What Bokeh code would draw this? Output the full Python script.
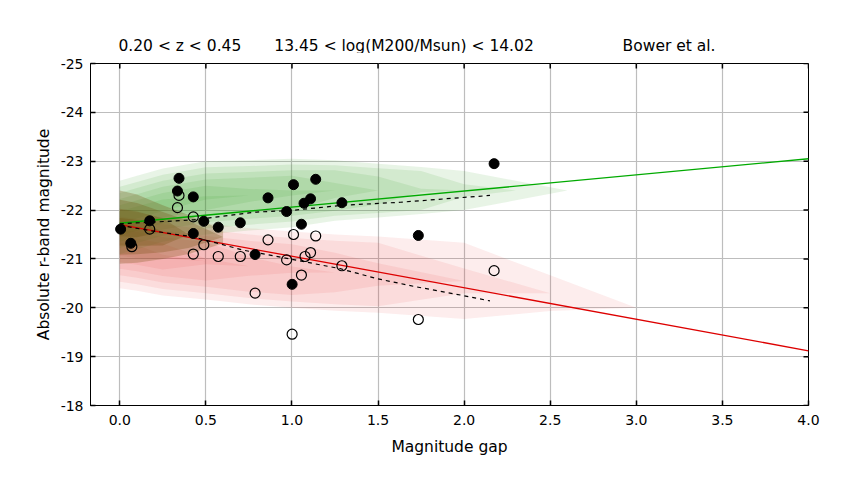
import math
from bokeh.plotting import figure
from bokeh.models import Range1d, FixedTicker
from bokeh.layouts import column
from bokeh.core.properties import value
from bokeh.embed import file_html
from bokeh.resources import INLINE

# ---------------- data ----------------
x_ticks = [0.0, 0.5, 1.0, 1.5, 2.0, 2.5, 3.0, 3.5, 4.0]
x_tick_labels = ["0.0", "0.5", "1.0", "1.5", "2.0", "2.5", "3.0", "3.5", "4.0"]
y_ticks = [-25, -24, -23, -22, -21, -20, -19, -18]
y_tick_labels = ["-25", "-24", "-23", "-22", "-21", "-20", "-19", "-18"]

# brightest galaxy (filled) and second brightest (open) per group
bcg_gap = [0.005, 0.064, 0.174, 0.335, 0.344, 0.427, 0.427, 0.488, 0.572, 0.70, 0.786,
           0.861, 0.969, 1.001, 1.009, 1.055, 1.07, 1.108, 1.138, 1.29, 1.734, 2.174]
bcg_mag = [-21.61, -21.32, -21.78, -22.39, -22.65, -22.27, -21.52, -21.77, -21.65, -21.74, -21.09,
           -22.25, -21.97, -20.48, -22.52, -21.71, -22.14, -22.23, -22.63, -22.15, -21.48, -22.95]
sec_gap = [0.07, 0.174, 0.335, 0.344, 0.427, 0.427, 0.488, 0.572, 0.70, 0.786,
           0.861, 0.969, 1.001, 1.009, 1.055, 1.076, 1.108, 1.138, 1.29, 1.734, 2.174]
sec_mag = [-21.25, -21.61, -22.05, -22.30, -21.86, -21.10, -21.29, -21.05, -21.05, -20.30,
           -21.39, -20.98, -19.46, -21.50, -20.67, -21.05, -21.13, -21.47, -20.86, -19.76, -20.76]

# model fits (Bower et al.)
fit_x = [0.0, 4.0]
fit_bcg = [-21.73, -23.05]
fit_sec = [-21.70, -19.12]

# running medians of the observed groups (dashed)
med_bcg_x = [0.0, 0.174, 0.43, 0.795, 0.988, 1.30, 1.63, 2.15]
med_bcg_y = [-21.72, -21.75, -21.80, -21.96, -21.99, -22.10, -22.16, -22.30]
med_sec_x = [0.0, 0.174, 0.43, 0.717, 0.988, 1.28, 1.49, 1.705, 1.98, 2.15]
med_sec_y = [-21.69, -21.58, -21.45, -21.18, -21.0, -20.80, -20.60, -20.44, -20.26, -20.14]

# simulated galaxy clouds: centre, half-spread and visible density along the gap axis
green_x = [0.0, 0.1, 0.25, 0.5, 0.75, 1.0, 1.25, 1.5, 1.75, 2.0, 2.3, 2.6]
green_c = [-21.85, -21.95, -22.1, -22.25, -22.3, -22.35, -22.4, -22.4, -22.4, -22.4, -22.4, -22.4]
green_s = [0.75, 0.75, 0.75, 0.75, 0.72, 0.7, 0.62, 0.55, 0.48, 0.4, 0.3, 0.2]
green_d = [1.0, 0.95, 0.85, 0.75, 0.65, 0.6, 0.5, 0.4, 0.3, 0.2, 0.1, 0.0]

red_x = [0.0, 0.1, 0.25, 0.5, 0.75, 1.0, 1.25, 1.5, 2.0, 2.5, 3.0]
red_c = [-21.2, -21.15, -21.05, -20.95, -20.85, -20.78, -20.72, -20.68, -20.55, -20.3, -20.0]
red_s = [0.8, 0.8, 0.8, 0.78, 0.78, 0.78, 0.78, 0.78, 0.78, 0.78, 0.78]
red_d = [1.0, 0.9, 0.75, 0.6, 0.5, 0.45, 0.4, 0.35, 0.2, 0.07, 0.0]

mix_x = [0.0, 0.1, 0.25, 0.4, 0.6]
mix_c = [-21.65, -21.62, -21.55, -21.5, -21.45]
mix_s = [0.75, 0.7, 0.55, 0.4, 0.2]
mix_d = [1.0, 0.9, 0.6, 0.35, 0.1]

titles = ["0.20 < z < 0.45", "13.45 < log(M200/Msun) < 14.02", "Bower et al."]
title_x = [0.349, 1.651, 3.19]

# ---------------- figure ----------------
FONT = "DejaVu Sans"
W = 845
HEAD_H = 53
x_range = Range1d(-0.17, 4.0)

head = figure(width=W, height=HEAD_H, output_backend="svg", toolbar_location=None,
              x_range=x_range, y_range=Range1d(0, HEAD_H),
              x_axis_location=None, y_axis_location=None,
              min_border_left=90, min_border_right=37, min_border_top=0, min_border_bottom=0)
head.grid.visible = False
head.outline_line_color = None
head.text(x=title_x, y=[HEAD_H - 45] * len(titles), text=titles, text_align="center",
          text_baseline="middle", text_font=value(FONT), text_font_size=value("15.5px"),
          text_color="black")

p = figure(width=W, height=435, output_backend="svg", toolbar_location=None,
           x_range=x_range, y_range=Range1d(-18, -25),
           min_border_left=90, min_border_right=37, min_border_top=10, min_border_bottom=83,
           x_axis_label="Magnitude gap", y_axis_label="Absolute r-band magnitude")
p.background_fill_color = "white"
p.border_fill_color = "white"
p.outline_line_color = "black"
p.outline_line_width = 1
p.outline_line_alpha = 1

for g in (p.xgrid, p.ygrid):
    g.grid_line_color = "#bdbdbd"
    g.grid_line_width = 1.2
p.xgrid.ticker = FixedTicker(ticks=x_ticks)
p.ygrid.ticker = FixedTicker(ticks=y_ticks)

def style_axis(ax, ticks, labels):
    ax.ticker = FixedTicker(ticks=ticks)
    ax.major_label_overrides = {t: l for t, l in zip(ticks, labels)}
    ax.major_tick_in = 5
    ax.major_tick_out = 0
    ax.minor_tick_in = 0
    ax.minor_tick_out = 0
    ax.major_tick_line_color = "black"
    ax.major_tick_line_width = 1.5
    ax.axis_line_color = "black"
    ax.major_label_text_font = FONT
    ax.major_label_text_font_size = "14px"
    ax.major_label_text_color = "black"
    ax.axis_label_text_font = FONT
    ax.axis_label_text_font_size = "15.5px"
    ax.axis_label_text_font_style = "normal"
    ax.axis_label_text_color = "black"

style_axis(p.xaxis[0], x_ticks, x_tick_labels)
style_axis(p.yaxis[0], y_ticks, y_tick_labels)
p.xaxis[0].major_label_standoff = 9
p.xaxis[0].axis_label_standoff = 10
p.yaxis[0].major_label_standoff = 7
p.yaxis[0].axis_label_standoff = 5

# clouds: nested translucent bands, the inner ones only where the cloud is dense
def cloud(xs, cs, ss, ds, color, n_layers, alpha):
    for k in range(n_layers):
        frac = 1.0 - k / n_layers
        thr = 0.85 * k / n_layers
        lo, hi = [], []
        for c, s, d in zip(cs, ss, ds):
            fade = min(1.0, max(0.0, (d - thr) / 0.15))
            h = s * frac * fade
            lo.append(c - h)
            hi.append(c + h)
        p.varea(x=xs, y1=lo, y2=hi, fill_color=color, fill_alpha=alpha)

cloud(red_x, red_c, red_s, red_d, "#e01e1e", 6, 0.08)
cloud(green_x, green_c, green_s, green_d, "#2a9a1e", 6, 0.11)
cloud(mix_x, mix_c, mix_s, mix_d, "#74500f", 4, 0.28)

# fits
p.line(fit_x, fit_bcg, line_color="#00aa00", line_width=1.3)
p.line(fit_x, fit_sec, line_color="#dd0000", line_width=1.3)
p.line(med_bcg_x, med_bcg_y, line_color="black", line_width=1.2, line_dash="4 4")
p.line(med_sec_x, med_sec_y, line_color="black", line_width=1.2, line_dash="4 4")

# points
p.scatter(sec_gap, sec_mag, marker="circle", size=10, fill_color=None,
          line_color="black", line_width=1.2)
p.scatter(bcg_gap, bcg_mag, marker="circle", size=10, fill_color="black",
          line_color="black", line_width=1)

# inward tick marks on the top and right edges of the frame
p.ray(x=x_ticks, y=[y_ticks[0]] * len(x_ticks), length=5, length_units="screen",
      angle=-math.pi / 2, line_color="black", line_width=1.5)
p.ray(x=[x_ticks[-1]] * len(y_ticks), y=y_ticks, length=5, length_units="screen",
      angle=math.pi, line_color="black", line_width=1.5)

layout = column(head, p, spacing=0)
open("out.html", "w").write(file_html(layout, INLINE))
